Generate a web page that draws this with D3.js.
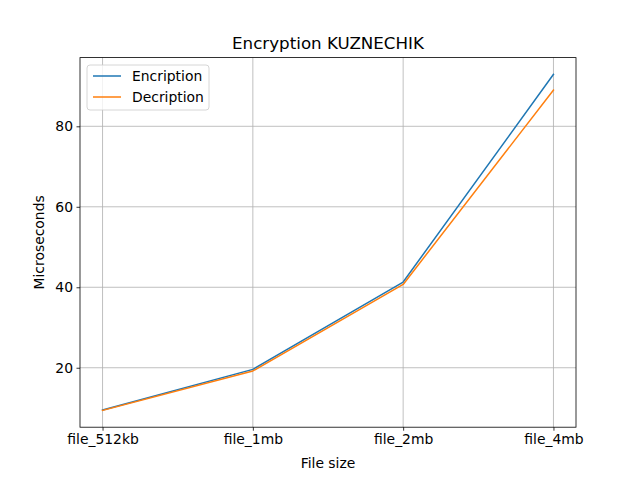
<!DOCTYPE html>
<html>
<head>
<meta charset="utf-8">
<script src="https://cdn.jsdelivr.net/npm/d3@7"></script>
<style>
  body { margin: 0; background: #fff; }
  text { font-family: "DejaVu Sans", sans-serif; }
</style>
</head>
<body>
<svg id="chart" width="640" height="480"></svg>
<script>
var categories = ['file_512kb', 'file_1mb', 'file_2mb', 'file_4mb']
var encryption = [9.5, 19.6, 41.3, 92.9]
var decryption = [9.4, 19.2, 40.7, 89.0]
var yTicks = [20, 40, 60, 80]
var seriesNames = ['Encription', 'Decription']
var colors = ['#1f77b4', '#ff7f0e']

var svg = d3.select('#chart')
var plotL = 80, plotR = 576, plotT = 57.6, plotB = 427.2

var allVals = encryption.concat(decryption)
var lo = d3.min(allVals), hi = d3.max(allVals)
var pad = (hi - lo) * 0.05

var x = d3.scaleLinear().domain([-0.15, 3.15]).range([plotL, plotR])
var y = d3.scaleLinear().domain([lo - pad, hi + pad]).range([plotB, plotT])

var g = svg.append('g')

// grid
g.selectAll('line.gx').data(categories).enter().append('line')
  .attr('x1', function (d, i) { return x(i) }).attr('x2', function (d, i) { return x(i) })
  .attr('y1', plotT).attr('y2', plotB)
  .attr('stroke', '#b0b0b0').attr('stroke-width', 0.8)
g.selectAll('line.gy').data(yTicks).enter().append('line')
  .attr('x1', plotL).attr('x2', plotR)
  .attr('y1', function (d) { return y(d) }).attr('y2', function (d) { return y(d) })
  .attr('stroke', '#b0b0b0').attr('stroke-width', 0.8)

// lines
var line = d3.line().x(function (d, i) { return x(i) }).y(function (d) { return y(d) })
;[encryption, decryption].forEach(function (s, k) {
  g.append('path').datum(s).attr('d', line)
    .attr('fill', 'none').attr('stroke', colors[k]).attr('stroke-width', 1.5)
    .attr('stroke-linejoin', 'round').attr('stroke-linecap', 'square')
})

// axes
var xAxis = d3.axisBottom(x).tickValues(d3.range(categories.length))
  .tickFormat(function (i) { return categories[i] }).tickSize(3.5).tickPadding(3.5)
var ax = svg.append('g').attr('transform', 'translate(0,' + plotB + ')').call(xAxis)
var yAxis = d3.axisLeft(y).tickValues(yTicks).tickSize(3.5).tickPadding(3.5)
var ay = svg.append('g').attr('transform', 'translate(' + plotL + ',0)').call(yAxis)
;[ax, ay].forEach(function (a) {
  a.select('.domain').remove()
  a.selectAll('line').attr('stroke', '#000').attr('stroke-width', 0.8)
  a.selectAll('text').attr('fill', '#000').style('font-size', '13.9px').style('font-family', 'DejaVu Sans')
})

// frame
svg.append('rect').attr('x', plotL).attr('y', plotT)
  .attr('width', plotR - plotL).attr('height', plotB - plotT)
  .attr('fill', 'none').attr('stroke', '#000').attr('stroke-width', 0.8)

// labels
svg.append('text').attr('x', (plotL + plotR) / 2).attr('y', 49)
  .attr('text-anchor', 'middle').style('font-size', '16.7px').text('Encryption KUZNECHIK')
svg.append('text').attr('x', (plotL + plotR) / 2).attr('y', 468)
  .attr('text-anchor', 'middle').style('font-size', '13.9px').text('File size')
svg.append('text').attr('transform', 'translate(44,' + ((plotT + plotB) / 2) + ') rotate(-90)')
  .attr('text-anchor', 'middle').style('font-size', '13.9px').text('Microseconds')

// legend
var lg = svg.append('g').attr('transform', 'translate(87,65)')
lg.append('rect').attr('width', 122).attr('height', 45).attr('rx', 3)
  .attr('fill', '#fff').attr('fill-opacity', 0.8).attr('stroke', '#cccccc').attr('stroke-width', 0.8)
seriesNames.forEach(function (n, k) {
  var yy = 11 + k * 21
  lg.append('line').attr('x1', 6).attr('x2', 34).attr('y1', yy).attr('y2', yy)
    .attr('stroke', colors[k]).attr('stroke-width', 1.5)
  lg.append('text').attr('x', 45).attr('y', yy + 5).style('font-size', '13.9px').text(n)
})
</script>
</body>
</html>
